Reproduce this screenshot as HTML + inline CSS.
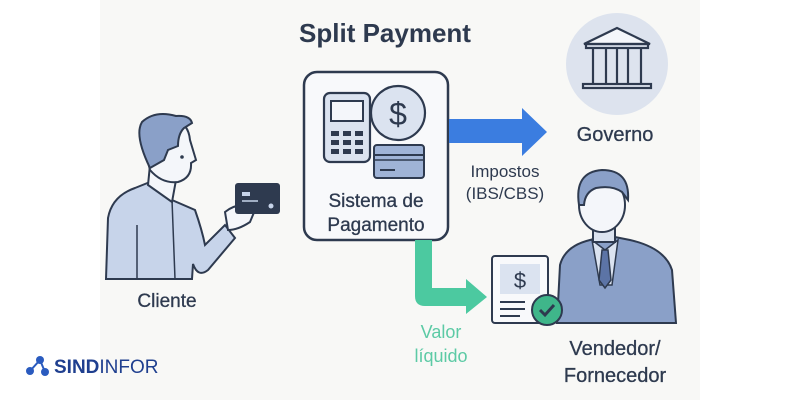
<!DOCTYPE html>
<html><head><meta charset="utf-8"><style>
html,body{margin:0;padding:0;background:#fff;}
svg{display:block;font-family:"Liberation Sans",sans-serif;}
</style></head><body>
<svg width="800" height="400" viewBox="0 0 800 400" xmlns="http://www.w3.org/2000/svg">
<rect x="0" y="0" width="800" height="400" fill="#ffffff"/>
<rect x="100" y="0" width="600" height="400" fill="#f8f8f6"/>
<text x="385" y="42" font-size="26" font-weight="bold" fill="#2e3a4f" text-anchor="middle">Split Payment</text>

<!-- system box -->
<rect x="304" y="72" width="144" height="168" rx="13" fill="#f8f9fb" stroke="#2e3a4f" stroke-width="2.5"/>
<rect x="324" y="93" width="46" height="69" rx="6" fill="#dbe3f0" stroke="#2e3a4f" stroke-width="2.2"/>
<rect x="331" y="101" width="32" height="20" fill="#f4f6fa" stroke="#2e3a4f" stroke-width="2"/>
<g fill="#2e3a4f">
<rect x="331" y="131" width="8" height="5"/><rect x="343" y="131" width="8" height="5"/><rect x="355" y="131" width="8" height="5"/>
<rect x="331" y="140" width="8" height="5"/><rect x="343" y="140" width="8" height="5"/><rect x="355" y="140" width="8" height="5"/>
<rect x="331" y="149" width="8" height="5"/><rect x="343" y="149" width="8" height="5"/><rect x="355" y="149" width="8" height="5"/>
</g>
<circle cx="398" cy="113" r="27" fill="#dbe3f0" stroke="#2e3a4f" stroke-width="2.2"/>
<text x="398" y="125" font-size="32" fill="#2e3a4f" text-anchor="middle">$</text>
<rect x="374" y="145" width="50" height="33" rx="3" fill="#9fb3d6" stroke="#2e3a4f" stroke-width="2"/>
<line x1="374" y1="155" x2="424" y2="155" stroke="#2e3a4f" stroke-width="2"/>
<line x1="374" y1="160" x2="424" y2="160" stroke="#2e3a4f" stroke-width="1.5"/>
<line x1="380" y1="170" x2="395" y2="170" stroke="#2e3a4f" stroke-width="2"/>
<text x="376" y="207" font-size="19" fill="#2e3a4f" text-anchor="middle" stroke="#2e3a4f" stroke-width="0.3">Sistema de</text>
<text x="376" y="231" font-size="19" fill="#2e3a4f" text-anchor="middle" stroke="#2e3a4f" stroke-width="0.3">Pagamento</text>

<!-- blue arrow -->
<polygon points="449,119 522,119 522,108 547,132 522,156 522,143 449,143" fill="#3b7de0"/>
<text x="505" y="177" font-size="17" fill="#2e3a4f" text-anchor="middle">Impostos</text>
<text x="505" y="199" font-size="17" fill="#2e3a4f" text-anchor="middle">(IBS/CBS)</text>

<!-- government -->
<circle cx="617" cy="64" r="51" fill="#dde3ee"/>
<g fill="none" stroke="#2e3a4f" stroke-width="2.2">
<polygon points="617,28 650,44 584,44" fill="#f4f6fa"/>
<rect x="586" y="44" width="62" height="4"/>
<line x1="593" y1="49" x2="593" y2="83"/><line x1="606" y1="49" x2="606" y2="83"/><line x1="617" y1="49" x2="617" y2="83"/><line x1="628" y1="49" x2="628" y2="83"/><line x1="641" y1="49" x2="641" y2="83"/>
<rect x="583" y="84" width="68" height="4"/>
</g>
<text x="615" y="141" font-size="20" fill="#2e3a4f" text-anchor="middle" stroke="#2e3a4f" stroke-width="0.3">Governo</text>

<!-- green arrow -->
<path d="M415,240 L432,240 L432,288 L466,288 L466,279 L487,297 L466,314 L466,306 L425,306 Q415,306 415,296 Z" fill="#4cc9a0"/>
<text x="441" y="338" font-size="18" fill="#5ccaa5" text-anchor="middle">Valor</text>
<text x="441" y="362" font-size="18" fill="#5ccaa5" text-anchor="middle">líquido</text>

<!-- vendedor -->
<path d="M557,323 L560,265 Q565,246 590,240 L610,236 L630,240 Q665,248 672,270 L676,323 Z" fill="#8aa0c8" stroke="#2e3a4f" stroke-width="2"/>
<polygon points="592,240 605,250 618,240 612,285 600,285" fill="#dbe3f0" stroke="#2e3a4f" stroke-width="1.5"/>
<polygon points="602,250 608,250 611,280 605,288 599,280" fill="#5c74a6" stroke="#2e3a4f" stroke-width="1.5"/>
<rect x="593" y="222" width="22" height="20" fill="#dbe3f0" stroke="#2e3a4f" stroke-width="2"/>
<ellipse cx="602" cy="205" rx="23" ry="27" fill="#f4f6fa" stroke="#2e3a4f" stroke-width="2"/>
<path d="M579,205 Q574,172 602,170 Q630,170 628,200 L622,192 Q612,185 596,188 Q585,192 584,205 Z" fill="#8aa0c8" stroke="#2e3a4f" stroke-width="2"/>
<rect x="492" y="256" width="56" height="67" rx="3" fill="#f8f9fb" stroke="#2e3a4f" stroke-width="2"/>
<rect x="500" y="264" width="40" height="30" fill="#dbe3f0"/>
<text x="520" y="288" font-size="22" fill="#2e3a4f" text-anchor="middle">$</text>
<line x1="500" y1="302" x2="525" y2="302" stroke="#2e3a4f" stroke-width="2"/>
<line x1="500" y1="309" x2="525" y2="309" stroke="#2e3a4f" stroke-width="2"/>
<line x1="500" y1="316" x2="520" y2="316" stroke="#2e3a4f" stroke-width="2"/>
<circle cx="547" cy="310" r="15" fill="#3fb68a" stroke="#2e3a4f" stroke-width="2"/>
<polyline points="540,310 545,315 554,305" fill="none" stroke="#2e3a4f" stroke-width="3"/>
<text x="615" y="355" font-size="20" fill="#2e3a4f" text-anchor="middle" stroke="#2e3a4f" stroke-width="0.3">Vendedor/</text>
<text x="615" y="382" font-size="20" fill="#2e3a4f" text-anchor="middle" stroke="#2e3a4f" stroke-width="0.3">Fornecedor</text>

<!-- cliente -->
<path d="M106,279 L108,218 Q112,196 135,188 L150,182 L172,200 L195,210 Q202,230 205,245 L225,225 L235,238 L208,270 Q198,278 193,264 L192,279 Z" fill="#c7d4ea" stroke="#2e3a4f" stroke-width="2"/>
<line x1="172" y1="200" x2="175" y2="279" stroke="#2e3a4f" stroke-width="1.5"/>
<line x1="137" y1="225" x2="137" y2="279" stroke="#2e3a4f" stroke-width="1.5"/>
<path d="M225,212 Q240,200 255,210 L250,222 Q238,230 228,230 Z" fill="#f4f6fa" stroke="#2e3a4f" stroke-width="2"/>
<rect x="235" y="183" width="45" height="31" rx="3" fill="#2e3a4f"/>
<rect x="242" y="192" width="8" height="4" fill="#c7d4ea"/><line x1="242" y1="201" x2="258" y2="201" stroke="#c7d4ea" stroke-width="1.5"/>
<circle cx="271" cy="206" r="2.5" fill="#c7d4ea"/>
<path d="M150,165 L148,185 L172,202 L176,180 Z" fill="#f4f6fa" stroke="#2e3a4f" stroke-width="2"/>
<path d="M145,150 Q142,125 165,120 Q188,118 190,140 L196,160 L191,163 Q192,178 178,182 Q162,184 150,170 Z" fill="#f4f6fa" stroke="#2e3a4f" stroke-width="2"/>
<path d="M150,168 Q134,135 142,122 Q155,110 176,116 Q190,115 192,123 L184,128 Q178,134 178,146 L168,150 L164,160 Z" fill="#8aa0c8" stroke="#2e3a4f" stroke-width="2"/>
<circle cx="182" cy="157" r="1.8" fill="#2e3a4f"/>
<text x="167" y="307" font-size="19" fill="#2e3a4f" text-anchor="middle" stroke="#2e3a4f" stroke-width="0.3">Cliente</text>

<!-- logo -->
<g fill="#2a5bbf"><circle cx="30" cy="371" r="4"/><circle cx="40" cy="360" r="4"/><circle cx="45" cy="372" r="4"/></g>
<polyline points="30,371 40,360 45,372" fill="none" stroke="#2a5bbf" stroke-width="2"/>
<text x="54" y="373" font-size="19" fill="#1f3f8f"><tspan font-weight="bold">SIND</tspan><tspan>INFOR</tspan></text>
</svg>
</body></html>
